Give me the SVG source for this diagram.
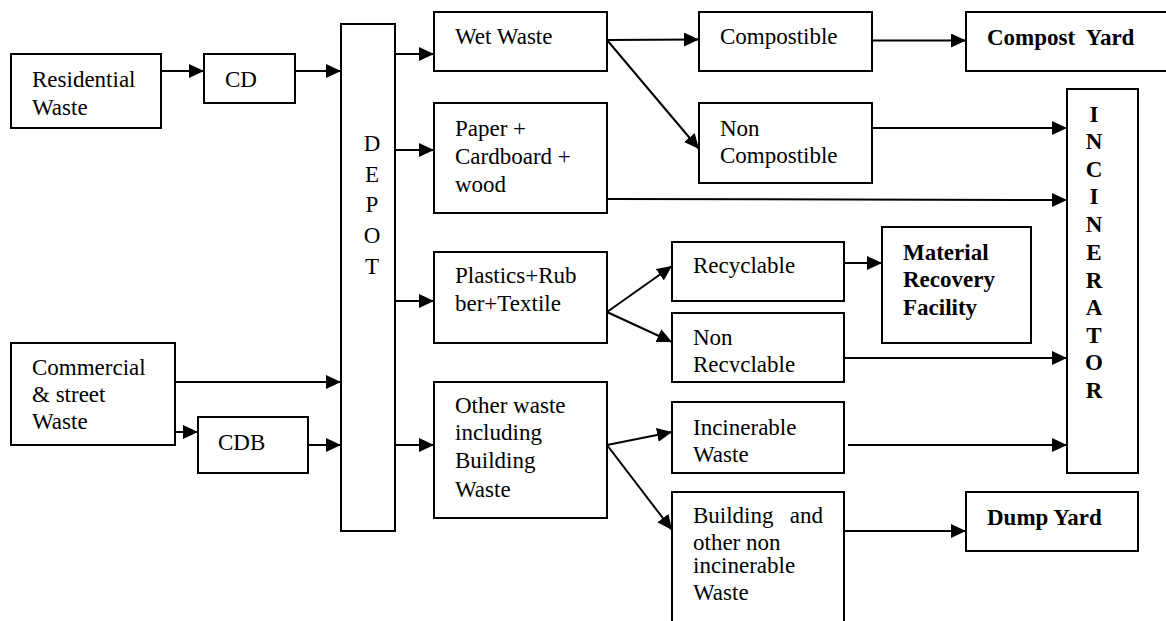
<svg xmlns="http://www.w3.org/2000/svg" width="1166" height="621" viewBox="0 0 1166 621">
<style>
.box{fill:#fff;stroke:#000;stroke-width:2}
.t{font-family:'Liberation Serif','Times New Roman',Times,Tinos,'DejaVu Serif',serif;font-size:23px;fill:#000}
.b{font-weight:bold}
.c{stroke:#000;stroke-width:2;fill:none}
</style>
<defs>
<marker id="ah" markerUnits="userSpaceOnUse" markerWidth="16" markerHeight="14" refX="15" refY="7" orient="auto">
<path d="M0,0 L15,7 L0,14 z" fill="#000"/>
</marker>
<clipPath id="clipNR"><rect x="672" y="313" width="172" height="59.5"/></clipPath>
</defs>
<rect width="1166" height="621" fill="#fff"/>
<g id="residential"><rect class="box" x="11" y="54" width="150" height="74"/><text class="t" font-family="Liberation Serif, serif" x="32" y="87">Residential</text><text class="t" x="32" y="115">Waste</text></g>
<g id="cd"><rect class="box" x="204" y="54" width="91" height="49"/><text class="t" x="225" y="87">CD</text></g>
<g id="commercial"><rect class="box" x="11" y="343" width="164" height="102"/><text class="t" x="32" y="375">Commercial</text><text class="t" x="32" y="402">&amp; street</text><text class="t" x="32" y="429">Waste</text></g>
<g id="cdb"><rect class="box" x="198" y="417" width="110" height="56"/><text class="t" x="218" y="450">CDB</text></g>
<g id="depot"><rect class="box" x="341" y="24" width="54" height="507"/>
<text class="t" text-anchor="middle" x="372" y="151">D</text><text class="t" text-anchor="middle" x="372" y="182">E</text><text class="t" text-anchor="middle" x="372" y="212">P</text><text class="t" text-anchor="middle" x="372" y="243">O</text><text class="t" text-anchor="middle" x="372" y="274">T</text></g>
<g id="wet"><rect class="box" x="434" y="12" width="173" height="59"/><text class="t" x="455" y="44">Wet Waste</text></g>
<g id="paper"><rect class="box" x="434" y="103" width="173" height="110"/><text class="t" x="455" y="136">Paper +</text><text class="t" x="455" y="164">Cardboard +</text><text class="t" x="455" y="192">wood</text></g>
<g id="plastics"><rect class="box" x="434" y="252" width="173" height="91"/><text class="t" x="455" y="283">Plastics+Rub</text><text class="t" x="455" y="311">ber+Textile</text></g>
<g id="other"><rect class="box" x="434" y="382" width="173" height="136"/><text class="t" x="455" y="413">Other waste</text><text class="t" x="455" y="440">including</text><text class="t" x="455" y="468">Building</text><text class="t" x="455" y="497">Waste</text></g>
<g id="compostible"><rect class="box" x="699" y="12" width="173" height="59"/><text class="t" x="720" y="44">Compostible</text></g>
<g id="noncompostible"><rect class="box" x="699" y="103" width="173" height="80"/><text class="t" x="720" y="136">Non</text><text class="t" x="720" y="163">Compostible</text></g>
<g id="recyclable"><rect class="box" x="672" y="242" width="172" height="59"/><text class="t" x="693" y="273">Recyclable</text></g>
<g id="nonrecyclable"><rect class="box" x="672" y="313" width="172" height="69"/><text class="t" x="693" y="345">Non</text><text class="t" x="693" y="372" clip-path="url(#clipNR)">Recyclable</text></g>
<g id="incinerable"><rect class="box" x="672" y="402" width="172" height="71"/><text class="t" x="693" y="435">Incinerable</text><text class="t" x="693" y="462">Waste</text></g>
<g id="building"><path class="c" d="M672,625 V492 H844 V625"/><text class="t" x="693" y="523">Building <tspan x="823" text-anchor="end">and</tspan></text><text class="t" x="693" y="550">other non</text><text class="t" x="693" y="573">incinerable</text><text class="t" x="693" y="600">Waste</text></g>
<g id="compostyard"><path class="c" d="M1170,12 H966 V71 H1170"/><text class="t b" x="987" y="45" xml:space="preserve">Compost  Yard</text></g>
<g id="mrf"><rect class="box" x="882" y="227" width="149" height="116"/><text class="t b" x="903" y="260">Material</text><text class="t b" x="903" y="287">Recovery</text><text class="t b" x="903" y="315">Facility</text></g>
<g id="dumpyard"><rect class="box" x="966" y="492" width="172" height="59"/><text class="t b" x="987" y="525">Dump Yard</text></g>
<g id="incinerator"><rect class="box" x="1067" y="89" width="71" height="384"/>
<g class="t b" text-anchor="middle">
<text x="1094" y="122">I</text><text x="1094" y="149">N</text><text x="1094" y="177">C</text><text x="1094" y="204">I</text><text x="1094" y="232">N</text><text x="1094" y="260">E</text><text x="1094" y="288">R</text><text x="1094" y="315">A</text><text x="1094" y="343">T</text><text x="1094" y="370">O</text><text x="1094" y="398">R</text>
</g></g>
<g id="connectors">
<path class="c" marker-end="url(#ah)" d="M161,71 H204"/>
<path class="c" marker-end="url(#ah)" d="M295,71 H341"/>
<path class="c" marker-end="url(#ah)" d="M175,382 H341"/>
<path class="c" marker-end="url(#ah)" d="M175,432 H198"/>
<path class="c" marker-end="url(#ah)" d="M308,445 H341"/>
<path class="c" marker-end="url(#ah)" d="M395,54 H434"/>
<path class="c" marker-end="url(#ah)" d="M395,150 H434"/>
<path class="c" marker-end="url(#ah)" d="M395,301 H434"/>
<path class="c" marker-end="url(#ah)" d="M395,445 H434"/>
<path class="c" marker-end="url(#ah)" d="M607,40 L699,39.5"/>
<path class="c" marker-end="url(#ah)" d="M607,40 L699,149"/>
<path class="c" marker-end="url(#ah)" d="M872,40.5 H966"/>
<path class="c" marker-end="url(#ah)" d="M872,128 H1067"/>
<path class="c" marker-end="url(#ah)" d="M607,199 L1067,200"/>
<path class="c" marker-end="url(#ah)" d="M607,312 L672,266"/>
<path class="c" marker-end="url(#ah)" d="M607,312 L672,342"/>
<path class="c" marker-end="url(#ah)" d="M844,263 H882"/>
<path class="c" marker-end="url(#ah)" d="M844,358 H1067"/>
<path class="c" marker-end="url(#ah)" d="M607,445 L672,432"/>
<path class="c" marker-end="url(#ah)" d="M607,445 L672,530"/>
<path class="c" marker-end="url(#ah)" d="M848,445 H1067"/>
<path class="c" marker-end="url(#ah)" d="M844,531 H966"/>
</g>
</svg>
